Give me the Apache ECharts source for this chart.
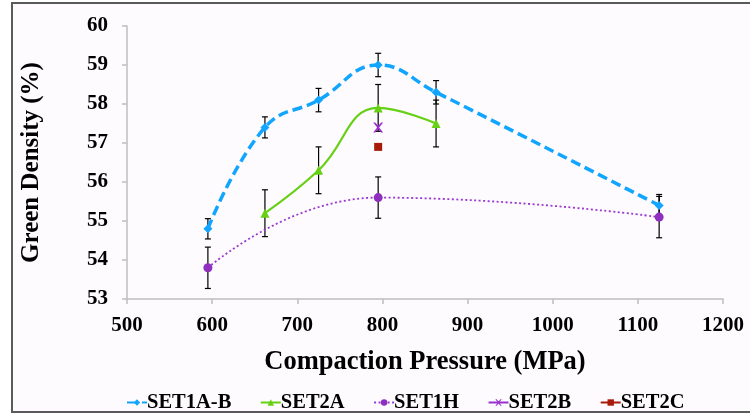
<!DOCTYPE html>
<html>
<head>
<meta charset="utf-8">
<script src="https://cdn.jsdelivr.net/npm/echarts@6/dist/echarts.min.js"></script>
<style>html,body{margin:0;padding:0;background:#fff}#c{width:750px;height:415px}</style>
</head>
<body>
<div id="c"></div>
<script>
const pressure1AB = [595, 662, 725, 795, 863, 1125];
const set1AB = [54.8, 57.4, 58.1, 59.0, 58.3, 55.4];
const set1ABErr = [0.26, 0.27, 0.3, 0.3, 0.3, 0.28];
const pressure2A = [662, 725, 795, 863];
const set2A = [55.2, 56.3, 57.9, 57.5];
const set2AErr = [0.6, 0.6, 0.6, 0.6];
const pressure1H = [595, 795, 1125];
const set1H = [53.8, 55.6, 55.1];
const set1HErr = [0.53, 0.53, 0.53];
const pressure2B = [795];
const set2B = [57.4];
const pressure2C = [795];
const set2C = [56.9];
const seriesNames = ['SET1A-B', 'SET2A', 'SET1H', 'SET2B', 'SET2C'];

const zip = (xs, ys) => xs.map((x, i) => [x, ys[i]]);
const zipErr = (xs, ys, es) => xs.map((x, i) => [x, ys[i], es[i]]);

function errorSeries(data) {
  return {
    type: 'custom',
    data: data,
    z: 1,
    silent: true,
    renderItem: function (params, api) {
      const x = api.value(0), y = api.value(1), e = api.value(2);
      const top = api.coord([x, y + e]);
      const bot = api.coord([x, y - e]);
      const w = 3;
      const st = { stroke: '#000', lineWidth: 1.2 };
      return {
        type: 'group',
        children: [
          { type: 'line', shape: { x1: top[0], y1: top[1], x2: bot[0], y2: bot[1] }, style: st },
          { type: 'line', shape: { x1: top[0] - w, y1: top[1], x2: top[0] + w, y2: top[1] }, style: st },
          { type: 'line', shape: { x1: bot[0] - w, y1: bot[1], x2: bot[0] + w, y2: bot[1] }, style: st }
        ]
      };
    }
  };
}

const font = "'Liberation Serif', 'Times New Roman', serif";
const chart = echarts.init(document.getElementById('c'));
chart.setOption({
  animation: false,
  graphic: [{
    type: 'rect', z: -10, silent: true,
    shape: { x: 12, y: 3, width: 760, height: 409 },
    style: { fill: '#fdfbfd', stroke: '#5a5a5a', lineWidth: 2 }
  }],
  grid: { left: 127, right: 27, top: 26, bottom: 116 },
  xAxis: {
    type: 'value', min: 500, max: 1200, interval: 100,
    name: 'Compaction Pressure (MPa)', nameLocation: 'middle', nameGap: 50,
    nameTextStyle: { fontFamily: font, fontWeight: 'bold', fontSize: 26.5, color: '#000' },
    axisLine: { show: true, lineStyle: { color: '#bfbfbf', width: 1.5 } },
    axisTick: { show: true, length: 5, lineStyle: { color: '#bfbfbf', width: 1.5 } },
    axisLabel: { fontFamily: font, fontWeight: 'bold', fontSize: 21, color: '#000', margin: 16,
      formatter: v => String(v) },
    splitLine: { show: false }
  },
  yAxis: {
    type: 'value', min: 53, max: 60, interval: 1,
    name: 'Green Density (%)', nameLocation: 'middle', nameGap: 83, nameRotate: 90,
    nameTextStyle: { fontFamily: font, fontWeight: 'bold', fontSize: 25, color: '#000' },
    axisLine: { show: true, lineStyle: { color: '#bfbfbf', width: 1.5 } },
    axisTick: { show: true, length: 5, lineStyle: { color: '#bfbfbf', width: 1.5 } },
    axisLabel: { fontFamily: font, fontWeight: 'bold', fontSize: 21, color: '#000', margin: 19 },
    splitLine: { show: false }
  },
  legend: {
    data: seriesNames,
    left: 121, top: 387,
    itemGap: 28.5, itemWidth: 20, itemHeight: 8,
    textStyle: { fontFamily: font, fontWeight: 'bold', fontSize: 20.5, color: '#000', padding: [0, 0, 0, -5] }
  },
  series: [
    errorSeries(zipErr(pressure1AB, set1AB, set1ABErr)),
    errorSeries(zipErr(pressure2A, set2A, set2AErr)),
    errorSeries(zipErr(pressure1H, set1H, set1HErr)),
    {
      name: 'SET1A-B', type: 'line', data: zip(pressure1AB, set1AB), smooth: 0.45, z: 3,
      symbol: 'diamond', symbolSize: 9,
      itemStyle: { color: '#11a5ff' },
      lineStyle: { color: '#11a5ff', width: 3.5, type: [10, 5] }
    },
    {
      name: 'SET2A', type: 'line', data: zip(pressure2A, set2A), smooth: 0.45, z: 3,
      symbol: 'triangle', symbolSize: 9,
      itemStyle: { color: '#66d014' },
      lineStyle: { color: '#66d014', width: 2.2 }
    },
    {
      name: 'SET1H', type: 'line', data: zip(pressure1H, set1H), smooth: 0.5, z: 3,
      symbol: 'circle', symbolSize: 9,
      itemStyle: { color: '#8f2fc0' },
      lineStyle: { color: '#9a38d0', width: 1.8, type: [2, 2.5] }
    },
    {
      name: 'SET2B', type: 'line', data: zip(pressure2B, set2B), z: 3,
      symbol: 'path://M0,0 L2,0 L5,3 L8,0 L10,0 L6,4.5 L10,9 L8,9 L5,6 L2,9 L0,9 L4,4.5 Z', symbolSize: 10,
      itemStyle: { color: '#9b30d0' },
      lineStyle: { color: '#9b30d0', width: 2 }
    },
    {
      name: 'SET2C', type: 'line', data: zip(pressure2C, set2C), z: 3,
      symbol: 'rect', symbolSize: 8,
      itemStyle: { color: '#a81b0a' },
      lineStyle: { color: '#a81b0a', width: 2 }
    }
  ]
});
</script>
</body>
</html>
